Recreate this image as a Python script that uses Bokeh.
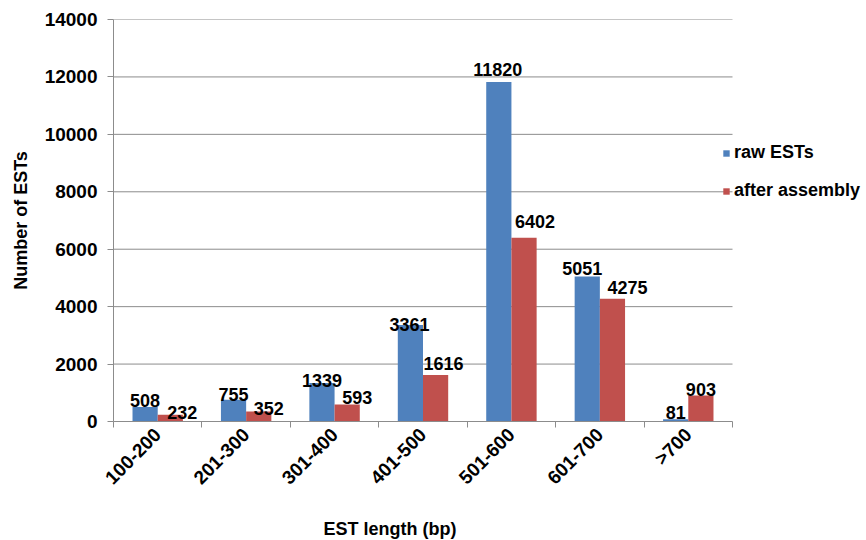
import math
from bokeh.plotting import figure
from bokeh.models import (ColumnDataSource, Range1d, Legend, LegendItem, Title,
                          LinearAxis, FixedTicker, NumeralTickFormatter)
from bokeh.core.properties import value
from bokeh.embed import file_html
from bokeh.resources import INLINE

# EST length classes and counts
categories = ["100-200", "201-300", "301-400", "401-500", "501-600", "601-700", ">700"]
raw_ests = [508, 755, 1339, 3361, 11820, 5051, 81]
after_assembly = [232, 352, 593, 1616, 6402, 4275, 903]
y_ticks = [0, 2000, 4000, 6000, 8000, 10000, 12000, 14000]

# nudges (px) for the value labels so neighbouring numbers do not collide
raw_dx = [0, 0, 0, -1, -1, -5, 0]
raw_lift = [6, 5, 3, 0, 13, 8, 7]
asm_dx = [12, 10, 10, 8, 11, 15, 0]
asm_lift = [2, 3, 7, 12, 16, 11, 6]

BLUE = "#4F81BD"
RED = "#C0504D"
GRID = "#8c8c8c"
FONT = "Liberation Sans"

n = len(categories)
centers = [i + 0.5 for i in range(n)]
bw = 0.285

src = ColumnDataSource(dict(
    x_raw=[c - bw / 2 for c in centers],
    x_asm=[c + bw / 2 for c in centers],
    raw=raw_ests,
    asm=after_assembly,
    raw_lbl=[str(v) for v in raw_ests],
    asm_lbl=[str(v) for v in after_assembly],
    raw_dx=raw_dx,
    raw_dy=[-v for v in raw_lift],
    asm_dx=asm_dx,
    asm_dy=[-v for v in asm_lift],
))

# the plotting frame runs to the right edge so the legend can sit beside the bars;
# the category axis itself covers [0, n]
x_end = n * 753 / 619
p = figure(
    x_range=Range1d(0, x_end),
    y_range=Range1d(0, 14000),
    width=866, height=540,
    min_border_left=113, min_border_right=0,
    min_border_top=19, min_border_bottom=119,
    output_backend="svg", toolbar_location=None,
)
p.outline_line_color = None
p.background_fill_color = "white"
p.border_fill_color = "white"
p.xgrid.grid_line_color = None
p.ygrid.grid_line_color = None

# horizontal gridlines across the category span
p.segment(x0=[0] * (len(y_ticks) - 1), x1=[n] * (len(y_ticks) - 1),
          y0=y_ticks[1:], y1=y_ticks[1:], line_color=GRID, line_width=1)

r_raw = p.vbar(x="x_raw", top="raw", width=bw, source=src,
               fill_color=BLUE, line_color=None)
r_asm = p.vbar(x="x_asm", top="asm", width=bw, source=src,
               fill_color=RED, line_color=None)

# value labels above each bar
common = dict(text_font=value(FONT), text_font_size="18px", text_font_style="bold",
              text_color="black", text_align="center", text_baseline="alphabetic")
p.text(x="x_raw", y="raw", text="raw_lbl", x_offset="raw_dx", y_offset="raw_dy",
       source=src, **common)
p.text(x="x_asm", y="asm", text="asm_lbl", x_offset="asm_dx", y_offset="asm_dy",
       source=src, **common)

# axes
p.yaxis.ticker = FixedTicker(ticks=y_ticks)
p.yaxis.formatter = NumeralTickFormatter(format="0")
p.xaxis.ticker = FixedTicker(ticks=centers, minor_ticks=list(range(n + 1)))
p.xaxis.major_label_overrides = {c: lab for c, lab in zip(centers, categories)}
p.xaxis.bounds = (0, n)
for ax in (p.xaxis[0], p.yaxis[0]):
    ax.axis_line_color = GRID
    ax.major_tick_line_color = GRID
    ax.major_label_text_font = FONT
    ax.major_label_text_font_style = "bold"
    ax.major_label_text_font_size = "19px"
    ax.major_label_text_color = "black"
    ax.major_tick_in = 0
p.yaxis.major_tick_out = 6
p.yaxis.minor_tick_line_color = None
p.yaxis.major_label_standoff = 10
p.xaxis.major_tick_out = 0
p.xaxis.minor_tick_line_color = GRID
p.xaxis.minor_tick_out = 6
p.xaxis.minor_tick_in = 0
p.xaxis.major_label_orientation = math.pi / 4
p.xaxis.major_label_standoff = 4

p.yaxis.axis_label = "Number of ESTs"
p.yaxis.axis_label_text_font = FONT
p.yaxis.axis_label_text_font_style = "bold"
p.yaxis.axis_label_text_font_size = "18px"
p.yaxis.axis_label_text_color = "black"
p.yaxis.axis_label_standoff = 11

# empty strip between the category labels and the x-axis title
spacer = LinearAxis(ticker=FixedTicker(ticks=[]), axis_line_color=None,
                    major_tick_line_color=None, minor_tick_line_color=None,
                    major_tick_in=0, major_tick_out=16)
p.add_layout(spacer, "below")
p.add_layout(Title(text=" ", text_font_size="1px", standoff=15), "below")

# x-axis title, set left of centre
p.add_layout(Title(text="EST length (bp)", align="left", offset=210, standoff=0,
                   text_font=FONT, text_font_style="bold", text_font_size="18px",
                   text_color="black"), "below")

legend = Legend(items=[LegendItem(label="raw ESTs", renderers=[r_raw]),
                       LegendItem(label="after assembly", renderers=[r_asm])],
                location=(609, 220), orientation="vertical",
                label_text_font=FONT, label_text_font_style="bold",
                label_text_font_size="18px", label_text_color="black",
                glyph_width=8, glyph_height=8, label_standoff=4,
                label_height=20, spacing=17, padding=0, margin=0,
                border_line_color=None, background_fill_alpha=0)
p.add_layout(legend)

open("out.html", "w").write(file_html(p, INLINE))
